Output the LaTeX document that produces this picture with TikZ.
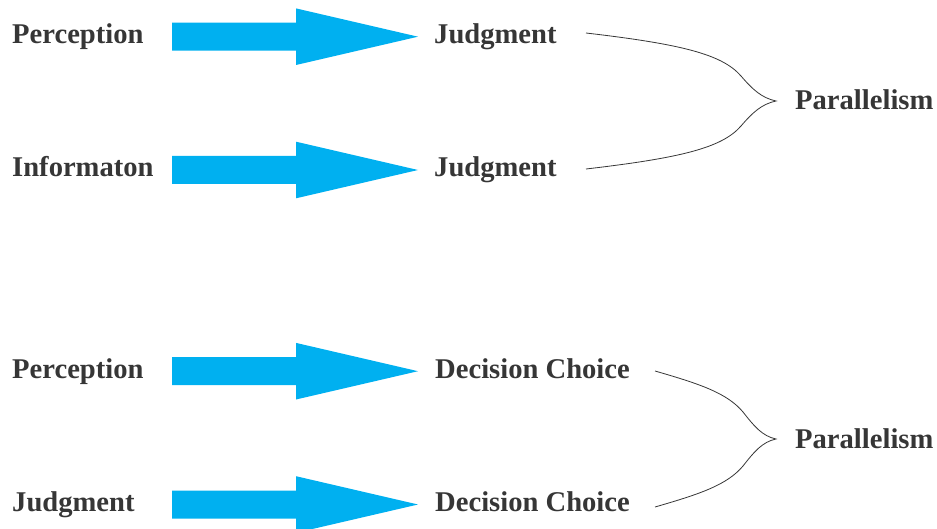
\documentclass[tikz,border=0pt]{standalone}
\usepackage{fontspec}
\setmainfont{Liberation Serif}
\begin{document}
\definecolor{arrowblue}{HTML}{00B0F0}
\definecolor{textgray}{HTML}{363636}
\begin{tikzpicture}[x=1pt,y=-1pt,
  lbl/.style={anchor=base west, inner sep=0pt, text=textgray,
    font=\fontsize{28.6}{32}\selectfont\bfseries},
  bracepath/.style={draw=textgray, line width=0.8pt},
  fatarrow/.pic={\fill[arrowblue] (0,-14) -- (124,-14) -- (124,-28.3) -- (246,0)
      -- (124,28.3) -- (124,14) -- (0,14) -- cycle;}]
\useasboundingbox (0,0) rectangle (937,529);

% upper group
\node[lbl] (per1) at (12,44) {Perception};
\node[lbl] (inf)  at (12,177) {Informaton};
\node[lbl] (jud1) at (434,44) {Judgment};
\node[lbl] (jud2) at (434,177) {Judgment};
\node[lbl] (par1) at (795,110) {Parallelism};

% lower group
\node[lbl] (per2) at (12,378.3) {Perception};
\node[lbl] (jud3) at (12,511.7) {Judgment};
\node[lbl] (dec1) at (435,378.3) {Decision Choice};
\node[lbl] (dec2) at (435,511.7) {Decision Choice};
\node[lbl] (par2) at (795,448.5) {Parallelism};

% block arrows
\coordinate (s1) at (172,36.7);
\coordinate (s2) at (172,170);
\coordinate (s3) at (172,371.2);
\coordinate (s4) at (172,504.5);
\pic at (s1) {fatarrow};
\pic at (s2) {fatarrow};
\pic at (s3) {fatarrow};
\pic at (s4) {fatarrow};

% upper brace
\coordinate (b1a) at (586,33);
\coordinate (b1m) at (741,76);
\coordinate (b1t) at (776,101);
\coordinate (b1n) at (741,126);
\coordinate (b1b) at (586,169);
\draw[bracepath] (b1a) .. controls (680,44) and (722,54) .. (b1m)
  .. controls (753,90) and (762,98) .. (b1t)
  .. controls (762,104) and (753,112) .. (b1n)
  .. controls (722,148) and (680,158) .. (b1b);

% lower brace
\coordinate (b2a) at (655,371);
\coordinate (b2m) at (743,412);
\coordinate (b2t) at (776,439);
\coordinate (b2n) at (743,466);
\coordinate (b2b) at (655,507);
\draw[bracepath] (b2a) .. controls (700,384) and (727,393) .. (b2m)
  .. controls (754,426) and (762,436) .. (b2t)
  .. controls (762,442) and (754,452) .. (b2n)
  .. controls (727,485) and (700,494) .. (b2b);
\end{tikzpicture}
\end{document}
